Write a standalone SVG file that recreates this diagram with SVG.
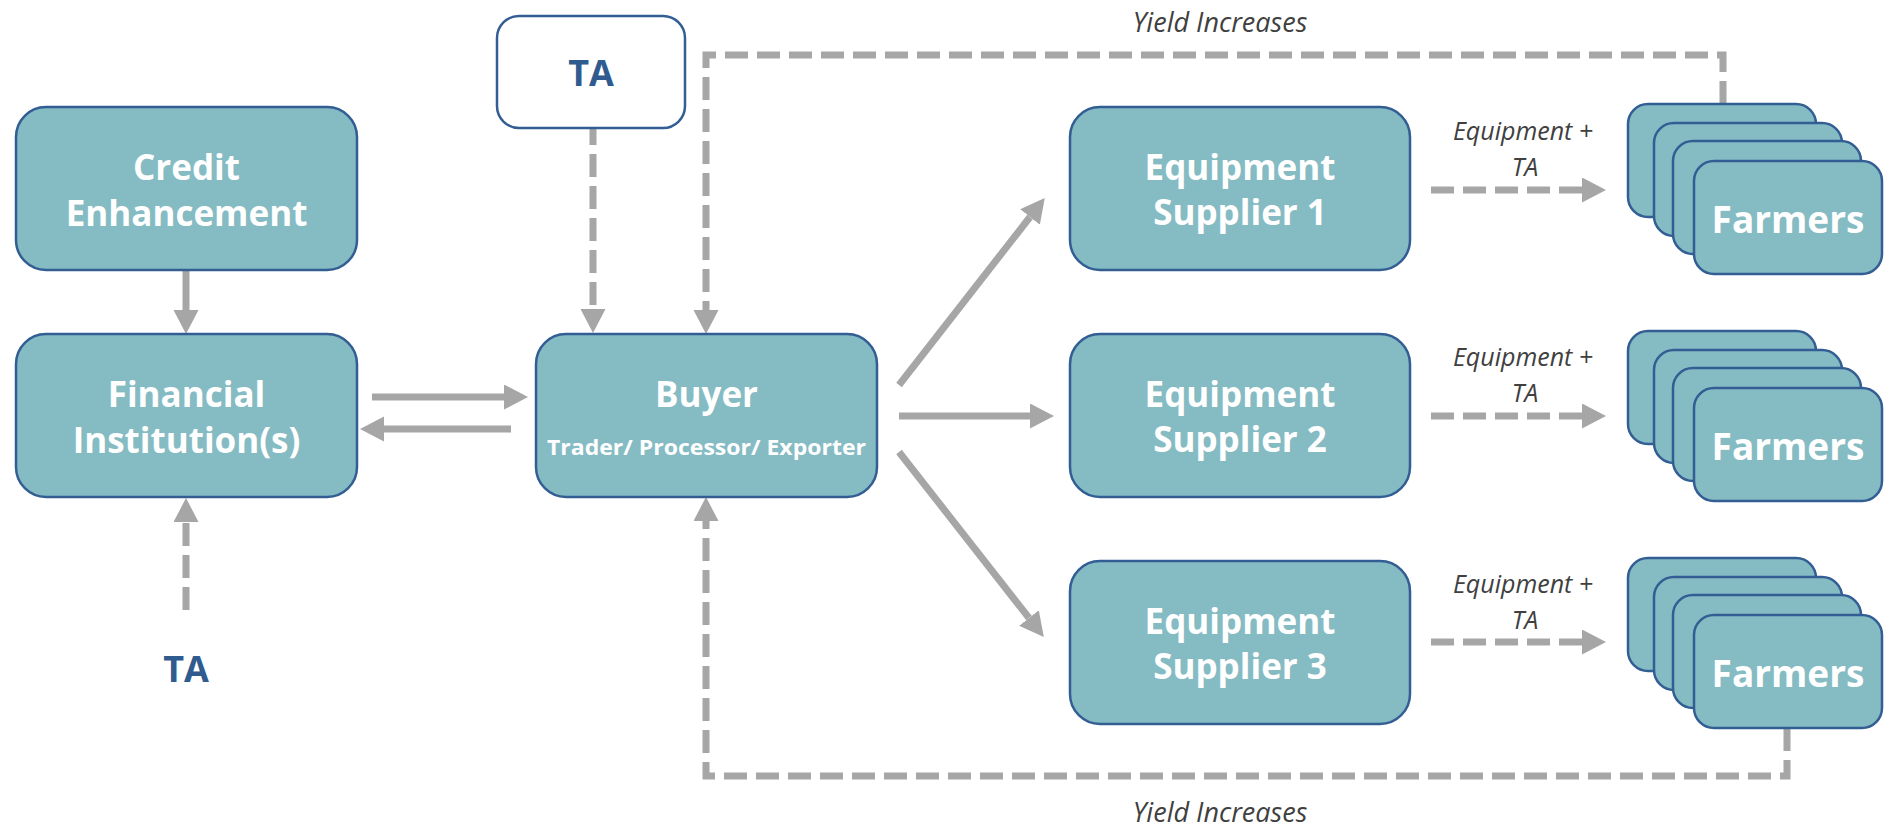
<svg xmlns="http://www.w3.org/2000/svg" width="1885" height="828" viewBox="0 0 1885 828">
  <defs>
    <style>
      .box { fill: #85BBC3; stroke: #335E94; stroke-width: 2.5; }
      .tabox { fill: #FFFFFF; stroke: #335E94; stroke-width: 2.5; }
      .lbl { font-family: "Open Sans", "Noto Sans", sans-serif; font-weight: 700; font-size: 35px; fill: #FFFFFF; text-anchor: middle; }
      .farm { font-size: 37px; }
      .sub { font-family: "Open Sans", "Noto Sans", sans-serif; font-weight: 700; font-size: 21px; fill: #FFFFFF; text-anchor: middle; }
      .ta { font-family: "Open Sans", "Noto Sans", sans-serif; font-weight: 700; font-size: 36px; fill: #2F5B8F; text-anchor: middle; }
      .note { font-family: "Open Sans", "Noto Sans", sans-serif; font-style: italic; font-size: 27px; fill: #404040; text-anchor: middle; }
      .small { font-size: 25px; }
      .solid { fill: none; stroke: #A6A6A6; stroke-width: 7; marker-end: url(#head); }
      .dash { fill: none; stroke: #A6A6A6; stroke-width: 7; stroke-dasharray: 23 9; marker-end: url(#head); }
    </style>
    <marker id="head" markerUnits="userSpaceOnUse" markerWidth="25" markerHeight="26" refX="0" refY="12.5" orient="auto">
      <path d="M0,0 L24,12.5 L0,25 z" fill="#A6A6A6"/>
    </marker>
    <!-- a stack of four overlapping cards with a label on the front one -->
    <g id="stack">
      <rect class="box" x="0" y="0" width="188" height="113" rx="20"/>
      <rect class="box" x="26" y="19" width="188" height="113" rx="20"/>
      <rect class="box" x="45" y="37" width="188" height="113" rx="20"/>
      <rect class="box" x="66" y="57" width="188" height="113" rx="20"/>
      <text class="lbl farm" x="160" y="129">Farmers</text>
    </g>
  </defs>

  <rect width="1885" height="828" fill="#FFFFFF"/>

  <g id="connectors">
    <!-- credit enhancement to financial institution -->
    <path class="solid" d="M186,270 V310"/>
    <!-- financial institution <-> buyer -->
    <path class="solid" d="M372,397 H504"/>
    <path class="solid" d="M511,429 H384"/>
    <!-- technical assistance inputs -->
    <path class="dash" d="M593,122 V309"/>
    <path class="dash" d="M186,610 V522"/>
    <!-- buyer to equipment suppliers -->
    <path class="solid" d="M899,385 L1030,217"/>
    <path class="solid" d="M899,416 H1030"/>
    <path class="solid" d="M899,452 L1029,618"/>
    <!-- equipment + TA to farmers -->
    <path class="dash" d="M1431,190 H1582"/>
    <path class="dash" d="M1431,416 H1582"/>
    <path class="dash" d="M1431,642 H1582"/>
    <!-- yield feedback loops -->
    <path class="dash" d="M1723,104 V55 H706 V310"/>
    <path class="dash" d="M1787,728 V776 H706 V521"/>
  </g>

  <g id="credit-enhancement">
    <rect class="box" x="16" y="107" width="341" height="163" rx="30"/>
    <text class="lbl" x="186.5" y="180">Credit</text>
    <text class="lbl" x="186.5" y="226">Enhancement</text>
  </g>

  <g id="financial-institution">
    <rect class="box" x="16" y="334" width="341" height="163" rx="30"/>
    <text class="lbl" x="186.5" y="407">Financial</text>
    <text class="lbl" x="186.5" y="453">Institution(s)</text>
  </g>

  <g id="ta-top">
    <rect class="tabox" x="497" y="16" width="188" height="112" rx="22"/>
    <text class="ta" x="591" y="86">TA</text>
  </g>

  <g id="ta-bottom">
    <text class="ta" x="186" y="682">TA</text>
  </g>

  <g id="buyer">
    <rect class="box" x="536" y="334" width="341" height="163" rx="30"/>
    <text class="lbl" x="706.5" y="407">Buyer</text>
    <text class="sub" x="706.5" y="455" textLength="319" lengthAdjust="spacingAndGlyphs">Trader/ Processor/ Exporter</text>
  </g>

  <g id="supplier-1">
    <rect class="box" x="1070" y="107" width="340" height="163" rx="30"/>
    <text class="lbl" x="1240" y="180">Equipment</text>
    <text class="lbl" x="1240" y="225">Supplier 1</text>
  </g>

  <g id="supplier-2">
    <rect class="box" x="1070" y="334" width="340" height="163" rx="30"/>
    <text class="lbl" x="1240" y="407">Equipment</text>
    <text class="lbl" x="1240" y="452">Supplier 2</text>
  </g>

  <g id="supplier-3">
    <rect class="box" x="1070" y="561" width="340" height="163" rx="30"/>
    <text class="lbl" x="1240" y="634">Equipment</text>
    <text class="lbl" x="1240" y="679">Supplier 3</text>
  </g>

  <g id="farmers-1"><use href="#stack" x="1628" y="104"/></g>
  <g id="farmers-2"><use href="#stack" x="1628" y="331"/></g>
  <g id="farmers-3"><use href="#stack" x="1628" y="558"/></g>

  <g id="labels">
    <text class="note" x="1220" y="32">Yield Increases</text>
    <text class="note" x="1220" y="822">Yield Increases</text>
    <text class="note small" x="1523" y="140">Equipment +</text>
    <text class="note small" x="1525" y="176">TA</text>
    <text class="note small" x="1523" y="366">Equipment +</text>
    <text class="note small" x="1525" y="402">TA</text>
    <text class="note small" x="1523" y="593">Equipment +</text>
    <text class="note small" x="1525" y="629">TA</text>
  </g>
</svg>
